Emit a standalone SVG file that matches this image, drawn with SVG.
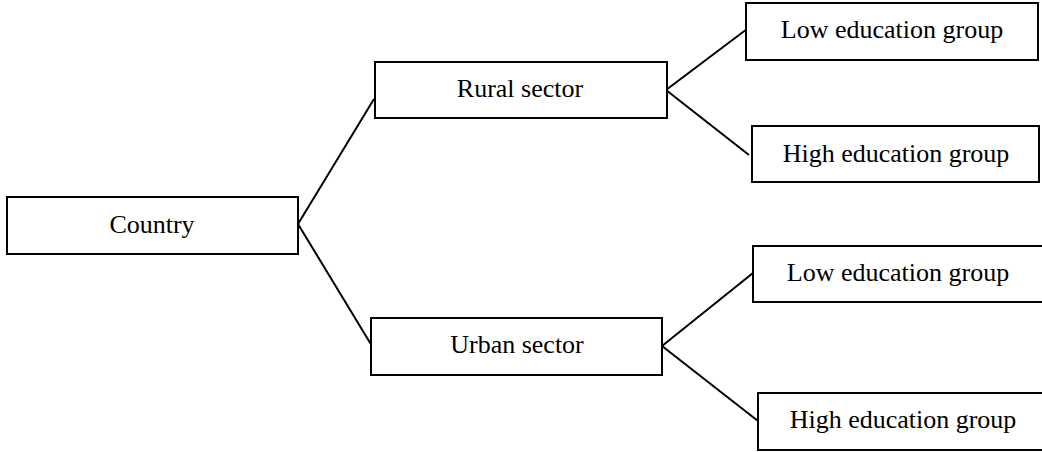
<svg xmlns="http://www.w3.org/2000/svg" width="1042" height="452" viewBox="0 0 1042 452">
<style>
.box{fill:#fff;stroke:#000;stroke-width:2}
.lbl{font-family:"Liberation Serif","Times New Roman",serif;font-size:26px;fill:#000;text-anchor:middle}
.conn line{stroke:#000;stroke-width:2}
</style>
<rect width="1042" height="452" fill="#fff"/>
<g class="conn" id="connectors">
<line x1="298" y1="224" x2="374" y2="99"/>
<line x1="298" y1="224" x2="372" y2="346"/>
<line x1="666" y1="90" x2="747" y2="29"/>
<line x1="666" y1="90" x2="749" y2="155"/>
<line x1="662" y1="346" x2="753" y2="273"/>
<line x1="662" y1="346" x2="758" y2="421"/>
</g>
<g id="country"><rect class="box" x="7" y="197" width="291" height="57"/><text class="lbl" x="152" y="233">Country</text></g>
<g id="rural"><rect class="box" x="375" y="62" width="292" height="56"/><text class="lbl" x="520" y="97">Rural sector</text></g>
<g id="urban"><rect class="box" x="371" y="318" width="291" height="57"/><text class="lbl" x="517" y="353">Urban sector</text></g>
<g id="rural-low"><rect class="box" x="746" y="3" width="292" height="57"/><text class="lbl" x="892" y="38">Low education group</text></g>
<g id="rural-high"><rect class="box" x="752" y="126" width="287" height="56"/><text class="lbl" x="896" y="162">High education group</text></g>
<g id="urban-low"><rect class="box" x="753" y="246" width="290" height="56"/><text class="lbl" x="898" y="281">Low education group</text></g>
<g id="urban-high"><rect class="box" x="758" y="393" width="290" height="57"/><text class="lbl" x="903" y="428">High education group</text></g>
</svg>
